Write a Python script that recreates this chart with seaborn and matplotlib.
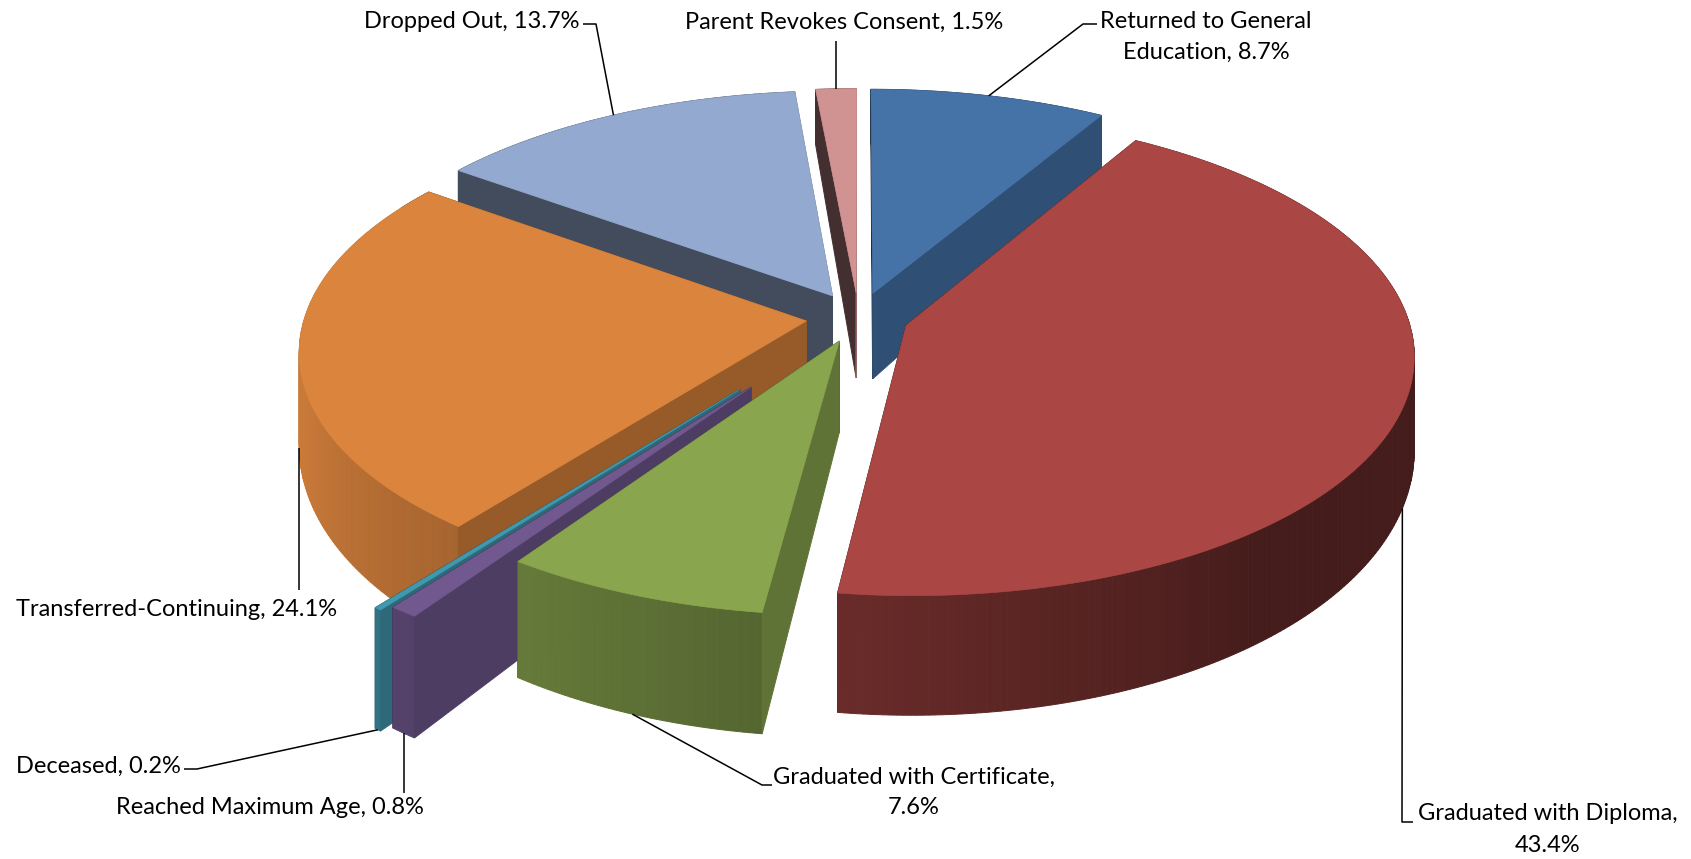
import numpy as np
import matplotlib
matplotlib.use("Agg")
import matplotlib.pyplot as plt
from matplotlib.patches import Polygon
from matplotlib.colors import to_rgb
import seaborn as sns

# ---------------- data ----------------
categories = ["Returned to General Education", "Graduated with Diploma",
              "Graduated with Certificate", "Reached Maximum Age", "Deceased",
              "Transferred-Continuing", "Dropped Out", "Parent Revokes Consent"]
shares = [8.7, 43.4, 7.6, 0.8, 0.2, 24.1, 13.7, 1.5]
label_lines = [["Returned to General", "Education, 8.7%"],
               ["Graduated with Diploma,", "43.4%"],
               ["Graduated with Certificate,", "7.6%"],
               ["Reached Maximum Age, 0.8%"],
               ["Deceased, 0.2%"],
               ["Transferred-Continuing, 24.1%"],
               ["Dropped Out, 13.7%"],
               ["Parent Revokes Consent, 1.5%"]]

# ---------------- style ----------------
colors = ["#4572A7", "#AA4643", "#89A54E", "#71588F", "#4198AF",
          "#DB843D", "#93A9CF", "#D19392"]
explode = [0.105, 0.10, 0.105, 0.35, 0.37, 0.105, 0.105, 0.105]

sns.set_theme(style="white")
plt.rcParams['font.family'] = ['Lato', 'DejaVu Sans']
palette = sns.color_palette(colors)

W, H = 1691, 859
fig = plt.figure(figsize=(W / 100, H / 100), dpi=100)
ax = fig.add_axes([0, 0, 1, 1])
ax.set_xlim(0, W)
ax.set_ylim(H, 0)
ax.set_axis_off()

# pseudo-perspective projection of the pie plane (u right, v away, h depth 0..1)
X0, Y0 = 858.6, 317.4
W0, W1 = 501.7, 61.5
A, B = 239.2, 29.1
D0, D1 = 88.4, 30.2
CAM = 8.0


def proj(u, v, h):
    u = np.asarray(u, float)
    v = np.asarray(v, float)
    xs = X0 + (W0 - W1 * v) * u
    ys = Y0 - A * v + B * v * v + h * (D0 - D1 * v)
    return xs, ys


def visible(pu, pv, nu, nv):
    return (-pu) * nu + (-CAM - pv) * nv > 0


def shade(c, f):
    r, g, b = to_rgb(c)
    f = max(0.0, f)
    return (min(r * f, 1), min(g * f, 1), min(b * f, 1))


def f_outer(phi):
    d = (np.degrees(phi) - 150) % 360 + 150
    return float(np.clip(0.9 - (d - 200) * 0.0045, 0.40, 0.92))


def f_radial(phi):
    return 0.5 + 0.2 * np.cos(phi + np.radians(20))


total = sum(shares)
starts, ends = [], []
acc = 0.0
for s in shares:
    starts.append(np.radians(90 - 360 * acc / total))
    acc += s
    ends.append(np.radians(90 - 360 * acc / total))

slices = []
for i, s in enumerate(shares):
    t1, t2 = starts[i], ends[i]
    m = 0.5 * (t1 + t2)
    cu, cv = explode[i] * np.cos(m), explode[i] * np.sin(m)
    # painter order: slices nearest the back (90 deg) first
    back_dist = abs((np.degrees(m) - 90 + 180) % 360 - 180)
    slices.append((back_dist, i, t1, t2, m, cu, cv))

slices.sort(key=lambda t: t[0])
anchors = {}

for _, i, t1, t2, m, cu, cv in slices:
    col = palette[i]
    nseg = max(2, int(abs(np.degrees(t1 - t2)) * 1.5) + 2)
    phis = np.linspace(t1, t2, nseg)
    au = cu + np.cos(phis)
    av = cv + np.sin(phis)
    hidden, shown = [], []
    # outer wall strips
    for k in range(nseg - 1):
        pm = 0.5 * (phis[k] + phis[k + 1])
        x0t, y0t = proj([au[k], au[k + 1]], [av[k], av[k + 1]], 0)
        x0b, y0b = proj([au[k], au[k + 1]], [av[k], av[k + 1]], 1)
        poly = [(x0t[0], y0t[0]), (x0t[1], y0t[1]), (x0b[1], y0b[1]), (x0b[0], y0b[0])]
        c = shade(col, f_outer(pm))
        pu, pv = cu + np.cos(pm), cv + np.sin(pm)
        (shown if visible(pu, pv, np.cos(pm), np.sin(pm)) else hidden).append((poly, c))
    # radial walls
    for th, sgn in ((t1, 1), (t2, -1)):
        nu, nv = -sgn * np.sin(th), sgn * np.cos(th)
        eu, ev = cu + np.cos(th), cv + np.sin(th)
        xt, yt = proj([cu, eu], [cv, ev], 0)
        xb, yb = proj([cu, eu], [cv, ev], 1)
        poly = [(xt[0], yt[0]), (xt[1], yt[1]), (xb[1], yb[1]), (xb[0], yb[0])]
        c = shade(col, f_radial(np.arctan2(nv, nu)))
        pu, pv = cu + 0.5 * np.cos(th), cv + 0.5 * np.sin(th)
        (shown if visible(pu, pv, nu, nv) else hidden).append((poly, c))
    for poly, c in hidden + shown:
        ax.add_patch(Polygon(poly, closed=True, facecolor=c, edgecolor=c,
                             lw=0.7, zorder=2))
    tx, ty = proj(np.r_[cu, au], np.r_[cv, av], 0)
    ax.add_patch(Polygon(np.c_[tx, ty], closed=True, facecolor=col,
                         edgecolor=col, lw=0.5, zorder=2))
    # leader anchor
    mu, mv = cu + np.cos(m), cv + np.sin(m)
    h = 1.0 if visible(mu, mv, np.cos(m), np.sin(m)) else 0.0
    ax_, ay_ = proj(mu, mv, h)
    anchors[i] = (float(ax_), float(ay_))

# ---------------- labels (layout) ----------------
FS = 17
# (text x, first line y, ha, line spacing, leader path after anchor)
layout = {
    0: (1206, 22, "center", 30, [(1083, 24), (1097, 24)]),
    1: (1548, 814, "center", 31, [(1402, 822), (1413, 822)]),
    2: (914, 777, "center", 30, [(762, 785), (772, 785)]),
    3: (424, 807, "right", 30, [None]),
    4: (16, 766, "left", 30, [(197, 769), (184, 769)]),
    5: (16, 610, "left", 30, [None]),
    6: (580, 22, "right", 30, [(596, 24), (583, 24)]),
    7: (844, 22, "center", 30, [None]),
}
vertical_end = {3: 793, 5: 590, 7: 41}

for i, lines in enumerate(label_lines):
    x, y, ha, ls, path = layout[i]
    for j, line in enumerate(lines):
        ax.text(x, y + j * ls, line, ha=ha, va="center", fontsize=FS,
                color="#000000", zorder=5)
    axx, ayy = anchors[i]
    if path[0] is None:
        xs = [axx, axx]
        ys = [ayy, vertical_end[i]]
    else:
        xs = [axx] + [p[0] for p in path]
        ys = [ayy] + [p[1] for p in path]
    ax.plot(xs, ys, color="black", lw=1.1, zorder=4, solid_capstyle="butt")

fig.savefig("out.png", dpi=100, facecolor="white")
